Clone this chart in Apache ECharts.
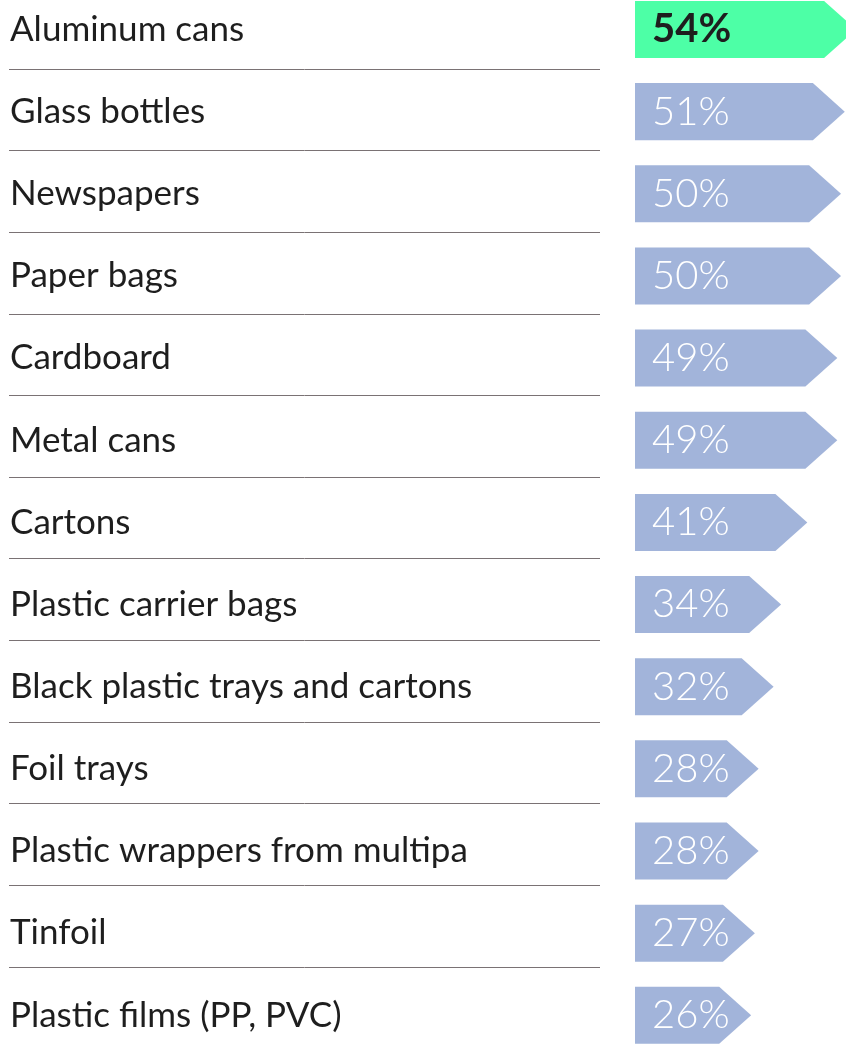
<!DOCTYPE html>
<html>
<head>
<meta charset="utf-8">
<script src="https://cdn.jsdelivr.net/npm/echarts@6/dist/echarts.min.js"></script>
<style>
html,body{margin:0;padding:0;background:#fff;}
#c{width:846px;height:1059px;}
</style>
</head>
<body>
<div id="c"></div>
<script>
const categories = [
  'Aluminum cans', 'Glass bottles', 'Newspapers', 'Paper bags', 'Cardboard',
  'Metal cans', 'Cartons', 'Plastic carrier bags', 'Black plastic trays and cartons',
  'Foil trays', 'Plastic wrappers from multipacks', 'Tinfoil', 'Plastic films (PP, PVC)'
];
const values = [54, 51, 50, 50, 49, 49, 41, 34, 32, 28, 28, 27, 26];
const highlighted = ['Aluminum cans'];

const GREEN = '#4dffa6';
const BLUE = '#a2b4da';
const FONT = 'Lato';

const chart = echarts.init(document.getElementById('c'), null, {renderer: 'canvas'});

const option = {
  animation: false,
  backgroundColor: '#ffffff',
  grid: [
    {left: 635, top: -11.6, width: 243.5, height: 1068, containLabel: false, outerBoundsMode: 'none'},
    {left: 9, top: -12.6, width: 591, height: 1061, containLabel: false, outerBoundsMode: 'none'}
  ],
  xAxis: [
    {gridIndex: 0, type: 'value', min: -5, max: 60, show: false},
    {gridIndex: 1, type: 'value', min: 0, max: 1, show: false}
  ],
  yAxis: [
    {
      gridIndex: 0, type: 'category', data: categories, inverse: true,
      axisLine: {show: false}, axisTick: {show: false}, splitLine: {show: false},
      axisLabel: {
        margin: 625, align: 'left', verticalAlign: 'middle',
        fontFamily: FONT, fontSize: 35, color: '#1e1e1e',
        width: 472, overflow: 'truncate', ellipsis: '',
        padding: [0, 0, 14, 0]
      }
    },
    {
      gridIndex: 1, type: 'category', data: categories, inverse: true,
      axisLine: {show: false}, axisTick: {show: false}, axisLabel: {show: false},
      splitLine: {show: true, showMinLine: false, showMaxLine: false,
        lineStyle: {color: '#7a7274', width: 1}}
    }
  ],
  series: [
    {
      type: 'custom',
      xAxisIndex: 0, yAxisIndex: 0,
      clip: false,
      data: values.map((v, i) => [v, i]),
      renderItem: function (params, api) {
        const v = api.value(0);
        const idx = api.value(1);
        const p = api.coord([v, idx]);
        const band = api.size([0, 1])[1];
        const h = band * 0.694;
        const head = h * 0.56;
        const x0 = params.coordSys.x;
        const x1 = p[0];
        const yc = p[1];
        const hi = highlighted.indexOf(categories[idx]) >= 0;
        return {
          type: 'group',
          children: [
            {
              type: 'polygon',
              shape: {points: [
                [x0, yc - h / 2], [x1 - head, yc - h / 2], [x1, yc],
                [x1 - head, yc + h / 2], [x0, yc + h / 2]
              ]},
              style: {fill: hi ? GREEN : BLUE}
            },
            {
              type: 'text',
              x: x0 + 17, y: yc,
              style: {
                text: v + '%',
                fontFamily: FONT,
                fontSize: 40,
                fontWeight: hi ? 'bold' : 300,
                fill: hi ? '#1e1e1e' : '#ffffff',
                align: 'left', verticalAlign: 'middle'
              }
            }
          ]
        };
      }
    }
  ]
};
chart.setOption(option);
</script>
</body>
</html>
